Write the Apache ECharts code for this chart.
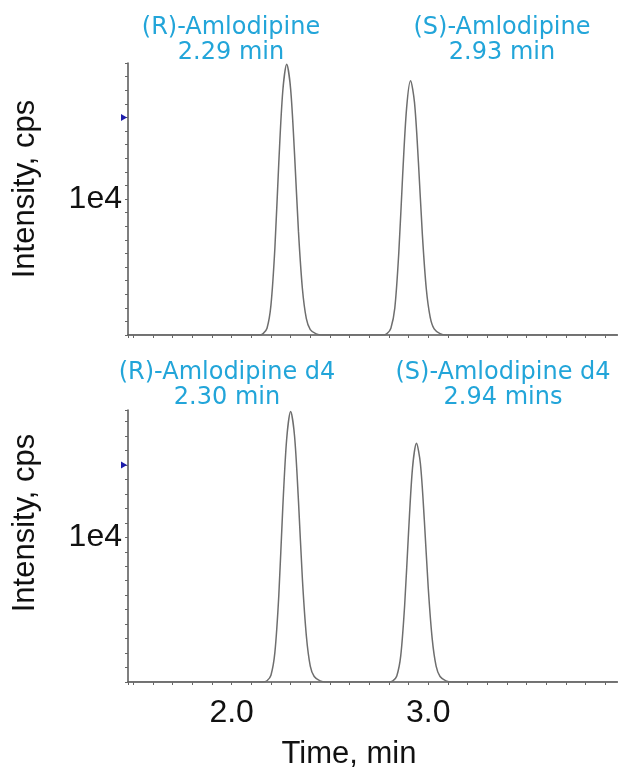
<!DOCTYPE html>
<html>
<head>
    <meta charset="utf-8">
    <title>Amlodipine chromatogram</title>
    <script src="https://cdn.jsdelivr.net/npm/echarts@6.0.0/dist/echarts.min.js"></script>
    <style>
        html, body { margin: 0; padding: 0; background: #ffffff; }
    </style>
</head>
<body>
<div id="main" style="width: 618px;height:771px;"></div>

<script type="text/javascript">
    // time window of both traces (min)
    var xRange = [1.473, 3.965];

    // upper trace: (R)- and (S)-Amlodipine, [time, cps]
    var traceTop = [
        [1.48, 0], [2.14, 0], [2.16, 100], [2.18, 500], [2.20, 2200], [2.22, 6400],
        [2.24, 12700], [2.26, 17900], [2.28, 19900], [2.30, 18100], [2.32, 13300],
        [2.34, 7600], [2.36, 3400], [2.38, 1200], [2.40, 400], [2.43, 80], [2.46, 0],
        [2.77, 0], [2.79, 100], [2.81, 500], [2.83, 2000], [2.85, 6000], [2.87, 11800],
        [2.89, 16700], [2.91, 18700], [2.93, 17100], [2.95, 12700], [2.97, 7400],
        [2.99, 3400], [3.01, 1300], [3.03, 450], [3.06, 100], [3.09, 0], [3.96, 0]
    ];

    // lower trace: the d4 internal standards
    var traceBottom = [
        [1.48, 0], [2.16, 0], [2.18, 90], [2.20, 470], [2.22, 2050], [2.24, 6000],
        [2.26, 12000], [2.28, 16800], [2.30, 18700], [2.32, 17000], [2.34, 12500],
        [2.36, 7100], [2.38, 3200], [2.40, 1100], [2.42, 380], [2.45, 75], [2.48, 0],
        [2.80, 0], [2.82, 80], [2.84, 420], [2.86, 1800], [2.88, 5300], [2.90, 10400],
        [2.92, 14800], [2.94, 16500], [2.96, 15100], [2.98, 11200], [3.00, 6500],
        [3.02, 3000], [3.04, 1100], [3.06, 380], [3.09, 80], [3.12, 0], [3.96, 0]
    ];

    var yMax = [20000, 18800];        // top of each intensity axis
    var thresholds = [16000, 15000];  // little blue arrows on the y axes

    var peakLabels = [
        '(R)-Amlodipine\n2.29 min',
        '(S)-Amlodipine\n2.93 min',
        '(R)-Amlodipine d4\n2.30 min',
        '(S)-Amlodipine d4\n2.94 mins'
    ];

    var myChart = echarts.init(document.getElementById('main'));

    var blue = '#22a5d9';
    var axisFont = 'Liberation Sans';

    function makeX(idx, showLabels) {
        return {
            type: 'value',
            gridIndex: idx,
            min: xRange[0],
            max: xRange[1],
            splitNumber: 3,
            axisLine: { lineStyle: { color: '#555', width: 1.5 } },
            axisTick: { show: true, inside: false, length: 3, lineStyle: { color: '#666' } },
            minorTick: { show: true, splitNumber: 10, length: 3, lineStyle: { color: '#666' } },
            splitLine: { show: false },
            axisLabel: {
                show: showLabels,
                margin: 15,
                fontSize: 32,
                fontFamily: axisFont,
                color: '#111',
                formatter: function (v) {
                    if (Math.abs(v - 2) < 1e-6) return '2.0';
                    if (Math.abs(v - 3) < 1e-6) return '3.0';
                    return '';
                }
            }
        };
    }

    function makeY(idx) {
        return {
            type: 'value',
            gridIndex: idx,
            min: 0,
            max: yMax[idx],
            interval: 1000,
            axisLine: { show: true, lineStyle: { color: '#555', width: 1.5 } },
            axisTick: { show: true, inside: false, length: 3, lineStyle: { color: '#666' } },
            splitLine: { show: false },
            axisLabel: {
                margin: 6,
                fontSize: 32,
                fontFamily: axisFont,
                color: '#111',
                formatter: function (v) {
                    return v === 10000 ? '1e4' : '';
                }
            }
        };
    }

    function makeTrace(idx, data) {
        return {
            type: 'line',
            xAxisIndex: idx,
            yAxisIndex: idx,
            data: data,
            smooth: 0.3,
            symbol: 'none',
            lineStyle: { color: '#6e6e6e', width: 1.5 },
            markPoint: {
                symbol: 'triangle',
                symbolSize: [7, 6],
                symbolRotate: -90,
                symbolOffset: [-4, 0],
                itemStyle: { color: '#1c1caa' },
                label: { show: false },
                data: [{ coord: [xRange[0], thresholds[idx]] }]
            }
        };
    }

    function peakTitle(text, x, y) {
        return {
            text: text,
            left: x,
            top: y,
            textAlign: 'center',
            padding: 0,
            textStyle: {
                fontFamily: 'DejaVu Sans',
                fontSize: 24,
                fontWeight: 'normal',
                lineHeight: 25,
                color: blue
            }
        };
    }

    function sideText(text, x, y, rot) {
        return {
            type: 'text',
            x: x,
            y: y,
            rotation: rot,
            style: {
                text: text,
                font: '31px "Liberation Sans"',
                fill: '#111',
                align: 'center',
                verticalAlign: 'middle',
                textAlign: 'center',
                textVerticalAlign: 'middle'
            }
        };
    }

    var option = {
        animation: false,
        backgroundColor: '#fff',
        title: [
            peakTitle(peakLabels[0], 231, 15),
            peakTitle(peakLabels[1], 502, 15),
            peakTitle(peakLabels[2], 227, 360),
            peakTitle(peakLabels[3], 503, 360)
        ],
        grid: [
            { left: 128, top: 63, width: 490, height: 272, outerBoundsMode: 'none' },
            { left: 128, top: 410, width: 490, height: 272, outerBoundsMode: 'none' }
        ],
        xAxis: [makeX(0, false), makeX(1, true)],
        yAxis: [makeY(0), makeY(1)],
        series: [makeTrace(0, traceTop), makeTrace(1, traceBottom)],
        graphic: [
            sideText('Intensity, cps', 25, 189, Math.PI / 2),
            sideText('Intensity, cps', 25, 523, Math.PI / 2),
            sideText('Time, min', 349, 754, 0)
        ]
    };

    myChart.setOption(option);
</script>
</body>
</html>
